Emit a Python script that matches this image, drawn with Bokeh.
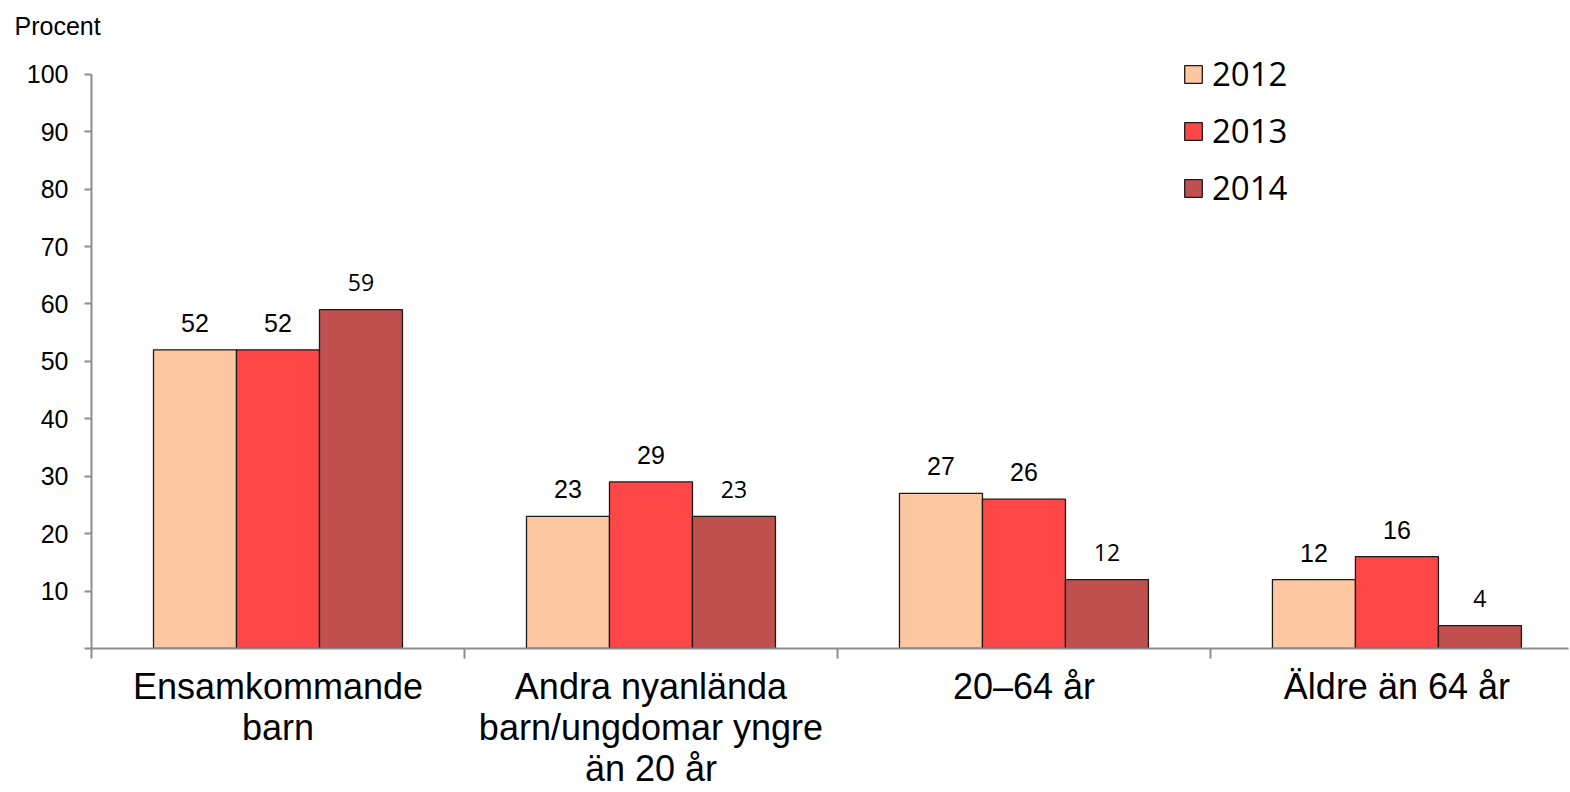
from bokeh.plotting import figure
from bokeh.models import Range1d, FixedTicker, Legend, LegendItem, ColumnDataSource
from bokeh.transform import dodge
from bokeh.core.properties import value
from bokeh.embed import file_html
from bokeh.resources import INLINE

categories = ["Ensamkommande\nbarn", "Andra nyanlända\nbarn/ungdomar yngre\nän 20 år", "20–64 år", "Äldre än 64 år"]
years = ["2012", "2013", "2014"]
v2012 = [52, 23, 27, 12]
v2013 = [52, 29, 26, 16]
v2014 = [59, 23, 12, 4]
colors = ["#FDC7A2", "#FF4747", "#C0504E"]
y_ticks = [0, 10, 20, 30, 40, 50, 60, 70, 80, 90, 100]

xs = [i + 0.5 for i in range(len(categories))]
src = ColumnDataSource(dict(x=xs, v2012=v2012, v2013=v2013, v2014=v2014,
                            l2012=[str(v) for v in v2012],
                            l2013=[str(v) for v in v2013],
                            l2014=[str(v) for v in v2014]))

p = figure(width=1570, height=792, output_backend="svg", toolbar_location=None,
           x_range=Range1d(0, 3.96), y_range=Range1d(0, 105),
           min_border_left=91, min_border_right=2, min_border_top=45, min_border_bottom=144)
p.outline_line_color = None
p.xgrid.visible = False
p.ygrid.visible = False

bw = 0.2225
offsets = [-bw, 0, bw]
series = ["v2012", "v2013", "v2014"]
labels = ["l2012", "l2013", "l2014"]
renderers = []
for s, off, c in zip(series, offsets, colors):
    r = p.vbar(x=dodge("x", off, range=p.x_range), top=s, width=bw, bottom=0, source=src,
               fill_color=c, line_color="#1a1a1a", line_width=1.3)
    renderers.append(r)

for i, (lab, off) in enumerate(zip(labels, offsets)):
    if i < 2:
        font, size = "Liberation Sans", "25px"
    else:
        font, size = "Open Sans", "23px"
    p.text(x=dodge("x", off, range=p.x_range), y=series[i], text=lab, source=src,
           text_align="center", text_baseline="alphabetic", y_offset=-27,
           text_font=value(font), text_font_size=size, text_color="#000000")

# axes
p.yaxis.ticker = FixedTicker(ticks=y_ticks)
p.yaxis.bounds = (0, 100)
p.yaxis.major_label_overrides = {0: ""}
p.yaxis.major_label_text_font = "Liberation Sans"
p.yaxis.major_label_text_font_size = "25px"
p.yaxis.major_label_text_color = "#000000"
p.yaxis.axis_line_color = "#8c8c8c"
p.yaxis.axis_line_width = 2
p.yaxis.major_tick_line_color = "#8c8c8c"
p.yaxis.major_tick_line_width = 2
p.yaxis.major_tick_in = 0
p.yaxis.major_tick_out = 7
p.yaxis.minor_tick_line_color = None
p.yaxis.major_label_standoff = 16

p.xaxis.ticker = FixedTicker(ticks=xs, minor_ticks=[0, 1, 2, 3, 4])
p.xaxis.major_label_overrides = {x: c for x, c in zip(xs, categories)}
p.xaxis.major_label_text_font = "Liberation Sans"
p.xaxis.major_label_text_font_size = "36px"
p.xaxis.major_label_text_line_height = 1.0
p.xaxis.major_label_text_color = "#000000"
p.xaxis.axis_line_color = "#8c8c8c"
p.xaxis.axis_line_width = 2
p.xaxis.major_tick_line_color = None
p.xaxis.major_tick_in = 0
p.xaxis.major_tick_out = 0
p.xaxis.minor_tick_line_color = "#8c8c8c"
p.xaxis.minor_tick_line_width = 2
p.xaxis.minor_tick_in = 0
p.xaxis.minor_tick_out = 10
p.xaxis.major_label_standoff = 7

# title
p.title.text = "Procent"
p.title.text_font = "Liberation Sans"
p.title.text_font_size = "25px"
p.title.text_font_style = "normal"
p.title.text_color = "#000000"
p.title.align = "left"
p.title.offset = -77
p.title.standoff = 12

legend = Legend(items=[LegendItem(label=y, renderers=[r]) for y, r in zip(years, renderers)],
                location=(1091, 438), padding=0, margin=0, spacing=12,
                glyph_width=22, glyph_height=22, label_standoff=8,
                label_text_font="Open Sans", label_text_font_size="33px",
                label_text_color="#000000",
                border_line_alpha=0, background_fill_alpha=0)
p.add_layout(legend, "center")

open("out.html", "w").write(file_html(p, INLINE))
